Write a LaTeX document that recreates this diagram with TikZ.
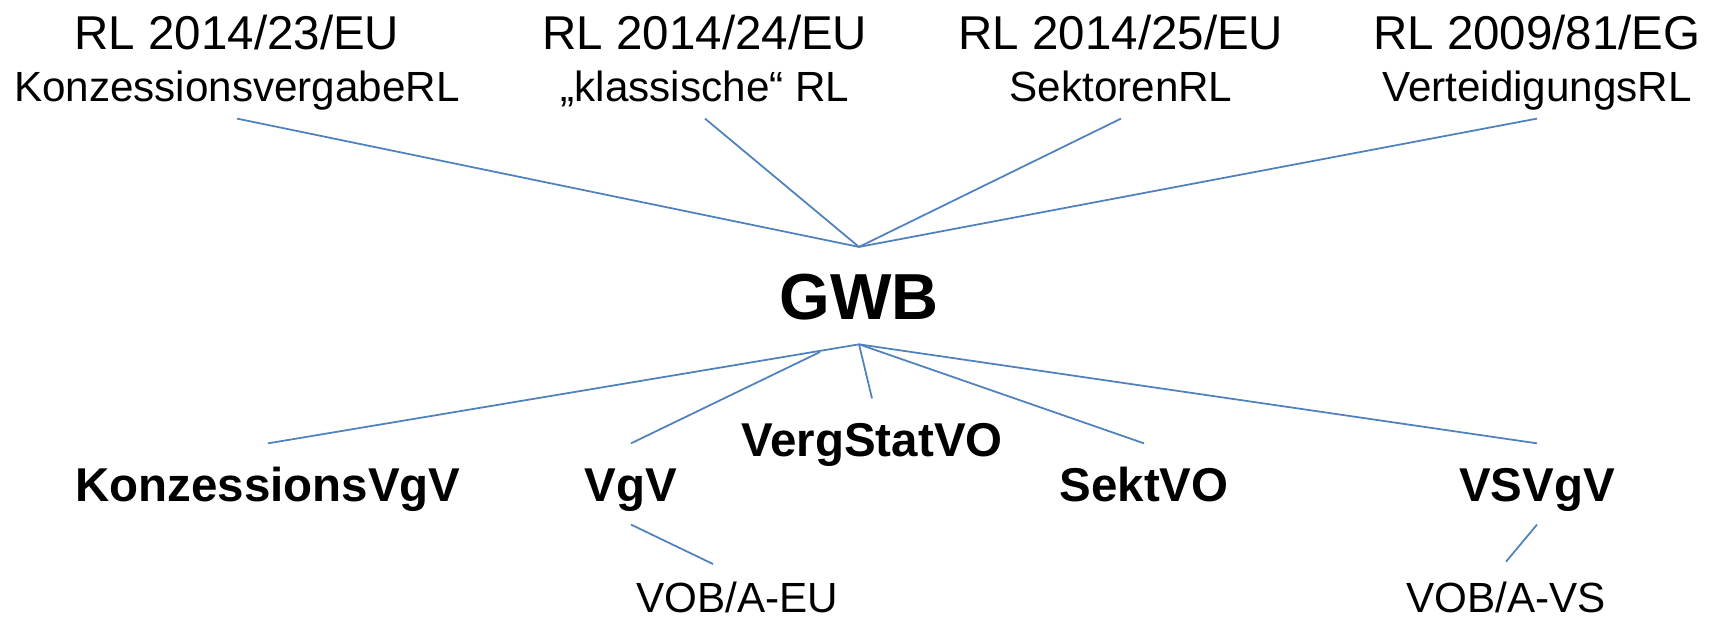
\documentclass[tikz,border=0pt]{standalone}
\usepackage{fontspec}
\setmainfont{Liberation Sans}
\usetikzlibrary{calc}

\definecolor{linkblue}{RGB}{79,129,189}

\begin{document}
\begin{tikzpicture}[x=0.01cm, y=-0.01cm,
        rl/.style={font=\fontsize{13.5}{16}\selectfont, anchor=base, inner sep=0pt},
        rlname/.style={font=\fontsize{12}{14}\selectfont, anchor=base, inner xsep=0pt, inner ysep=4.8pt, text depth=0pt},
        law/.style={font=\fontsize{13.5}{16}\selectfont\bfseries, anchor=base, inner xsep=0pt, inner ysep=6.5pt, text height=9.7pt, text depth=0pt},
        vob/.style={font=\fontsize{12}{14}\selectfont, anchor=base, inner xsep=0pt, inner ysep=5.5pt, text height=8.6pt, text depth=0pt},
        link/.style={draw=linkblue, line width=0.5pt}]
    \useasboundingbox (0,0) rectangle (1715,617);

    % Richtlinien
    \node[rl] (rl23) at (237,49) {RL 2014/23/EU};
    \node[rlname] (rl23n) at (237,101) {KonzessionsvergabeRL};
    \node[rl] (rl24) at (705,49) {RL 2014/24/EU};
    \node[rlname] (rl24n) at (705,101) {„klassische“ RL};
    \node[rl] (rl25) at (1121,49) {RL 2014/25/EU};
    \node[rlname] (rl25n) at (1121,101) {SektorenRL};
    \node[rl] (rl09) at (1537,49) {RL 2009/81/EG};
    \node[rlname] (rl09n) at (1537,101) {VerteidigungsRL};

    % Gesetz
    \node[font=\fontsize{18.5}{22}\selectfont\bfseries, anchor=base, inner xsep=0pt, inner ysep=7pt,
          text height=13.3pt, text depth=0pt] (gwb) at (859,319) {GWB};

    % Verordnungen
    \node[law] (kvgv) at (268,501) {KonzessionsVgV};
    \node[law] (vgv) at (631,501) {VgV};
    \node[law] (vergstat) at (872,456) {VergStatVO};
    \node[law] (sektvo) at (1144,501) {SektVO};
    \node[law] (vsvgv) at (1537,501) {VSVgV};

    \node[vob] (vobeu) at (737,612) {VOB/A-EU};
    \node[vob] (vobvs) at (1506,612) {VOB/A-VS};

    \coordinate (vgvtop) at (820,352);
    \coordinate (vobeutop) at (713,564);

    \foreach \rl in {rl23n,rl24n,rl25n,rl09n}
        \draw[link] (\rl.south) -- (gwb.north);

    \foreach \vo in {kvgv,vergstat,sektvo,vsvgv}
        \draw[link] (gwb.south) -- (\vo.north);
    \draw[link] (vgvtop) -- (vgv.north);

    \draw[link] (vgv.south) -- (vobeutop);
    \draw[link] (vsvgv.south) -- (vobvs.north);

\end{tikzpicture}
\end{document}
